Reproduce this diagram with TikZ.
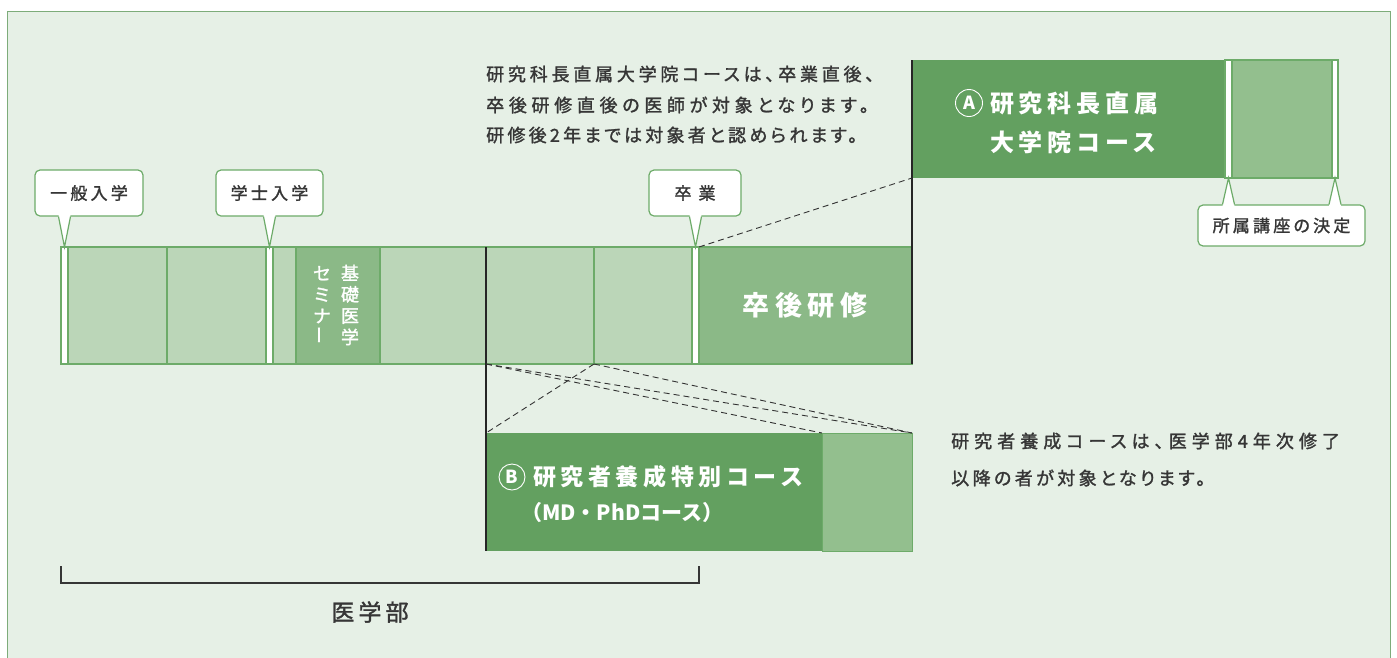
\documentclass[tikz,border=0pt]{standalone}
\usepackage{fontspec}
\setmainfont{Noto Sans CJK JP}
\newfontfamily\jp[LetterSpace=19, RawFeature=+palt, FakeBold=1.5]{Noto Sans CJK JP}
\newfontfamily\jpw[LetterSpace=20]{Noto Sans CJK JP}
\newfontfamily\jpt[LetterSpace=4, FakeBold=1.5]{Noto Sans CJK JP}
\newfontfamily\jpm[LetterSpace=18, FakeBold=1.5]{Noto Sans CJK JP}
\usetikzlibrary{calc}
\definecolor{bg}{HTML}{E6F0E6}
\definecolor{frm}{HTML}{7DAC7A}
\definecolor{light}{HTML}{BBD6B8}
\definecolor{mid}{HTML}{8BB987}
\definecolor{dark}{HTML}{63A060}
\definecolor{pale}{HTML}{93BF8E}
\definecolor{cline}{HTML}{6DAB69}
\definecolor{txt}{HTML}{363636}
\begin{document}
\begin{tikzpicture}[x=1pt,y=-1pt,
  cell/.style={draw=cline, line width=1.3pt, inner sep=0pt, outer sep=0pt, anchor=north west, minimum height=117pt},
  box/.style={inner sep=0pt, outer sep=0pt, anchor=north west, minimum height=118pt},
  callout/.style={draw=cline, fill=white, line width=1.2pt, rounded corners=5pt, inner sep=0pt, text=txt, font=\jp\fontsize{17}{20}\selectfont},
  ptr/.style={draw=cline, line width=1.2pt},
  ptrfill/.style={fill=white},
  blk/.style={draw=black!85, line width=1.1pt},
  dsh/.style={draw=black!80, line width=0.9pt, dash pattern=on 6pt off 4pt},
  note/.style={anchor=west, inner sep=0pt, text=txt, font=\jp\fontsize{18}{20}\selectfont},
  wtxt/.style={inner sep=0pt, text=white, font=\jpw\bfseries\fontsize{24}{26}\selectfont},
  vtxt/.style={inner sep=0pt, text=white, align=center, font=\jpt\fontsize{18}{21.3}\selectfont},
  letter/.style={circle, draw=white, line width=0.9pt, inner sep=0pt, minimum size=27pt, text=white, font=\bfseries\fontsize{18}{18}\selectfont}
]
\useasboundingbox (0,0) rectangle (1397,657);
\fill[white] (0,0) rectangle (1397,657);
\begin{scope}
\clip (0,0) rectangle (1397,657);
\draw[frm, fill=bg, line width=1.5pt] (7.5,11.5) rectangle (1390.5,700);
\end{scope}

% main bar
\node[cell, fill=white, minimum width=7pt] (w1) at (61,247) {};
\node[cell, fill=light, minimum width=99pt] (c1) at (68,247) {};
\node[cell, fill=light, minimum width=99pt] (c2) at (167,247) {};
\node[cell, fill=white, minimum width=7pt] (w2) at (266,247) {};
\node[cell, fill=light, minimum width=23pt] (c3) at (273,247) {};
\node[cell, fill=mid, minimum width=84pt] (sem) at (296,247) {};
\node[cell, fill=light, minimum width=106pt] (c4) at (380,247) {};
\node[cell, fill=light, minimum width=108pt] (c5) at (486,247) {};
\node[cell, fill=light, minimum width=98pt] (c6) at (594,247) {};
\node[cell, fill=white, minimum width=7pt] (w3) at (692,247) {};
\node[cell, fill=mid, minimum width=213pt] (post) at (699,247) {};

% A box
\node[box, fill=dark, minimum width=313pt] (Ad) at (912,60) {};
\node[cell, fill=white, minimum width=7pt, minimum height=118pt] (Aw1) at (1225,60) {};
\node[cell, fill=pale, minimum width=100pt, minimum height=118pt] (Al) at (1232,60) {};
\node[cell, fill=white, minimum width=6pt, minimum height=118pt] (Aw2) at (1332,60) {};

% B box
\node[box, fill=dark, minimum width=336pt] (Bd) at (486,433) {};
\node[box, fill=pale, draw=cline, line width=1pt, minimum width=90pt] (Bl) at (822,433) {};

% black lines
\draw[blk] (c5.north west) -- (Bd.south west);
\draw[blk] (Ad.north west) -- (post.south east);

% dashed lines
\draw[dsh] (post.north west) -- (Ad.south west);
\draw[dsh] (c5.south west) -- (Bl.north west);
\draw[dsh] (c5.south west) -- (Bl.north east);
\draw[dsh] (c5.south east) -- (Bl.north east);
\draw[dsh] (c5.south east) -- (Bd.north west);

% callouts above the bar
\node[callout, minimum width=108pt, minimum height=46pt] (L1) at (89,193) {一般入学};
\node[callout, minimum width=107pt, minimum height=46pt] (L2) at (269.5,193) {学士入学};
\node[callout, minimum width=92pt, minimum height=46pt] (L3) at (695,193) {卒\hspace{7pt}業};
\foreach \t/\l in {w1/L1, w2/L2, w3/L3}{
  \fill[ptrfill] ($(\t.north |- \l.south)+(-6,-1.6)$) -- (\t.north) -- ($(\t.north |- \l.south)+(6,-1.6)$) -- cycle;
  \draw[ptr] ($(\t.north |- \l.south)+(-6,0)$) -- (\t.north) -- ($(\t.north |- \l.south)+(6,0)$);
}
% callout below A
\node[callout, minimum width=167pt, minimum height=41pt] (L4) at (1281.5,225.5) {所属講座の決定};
\foreach \t in {Aw1, Aw2}{
  \fill[ptrfill] ($(\t.south |- L4.north)+(-6,1.6)$) -- (\t.south) -- ($(\t.south |- L4.north)+(6,1.6)$) -- cycle;
  \draw[ptr] ($(\t.south |- L4.north)+(-6,0)$) -- (\t.south) -- ($(\t.south |- L4.north)+(6,0)$);
}

% notes
\node[note] (t1) at (486,74) {\addfontfeatures{LetterSpace=21}研究科長直属大学院コースは、卒業直後、};
\node[note] (t2) at (486,105) {\addfontfeatures{LetterSpace=26}卒後研修直後の医師が対象となります。};
\node[note] (t3) at (486,135) {\addfontfeatures{LetterSpace=18}研修後2年までは対象者と認められます。};
\node[note] (r1) at (951,441) {\addfontfeatures{LetterSpace=28}研究者養成コースは、医学部4年次修了};
\node[note] (r2) at (951,478) {以降の者が対象となります。};

% texts in boxes
\node[vtxt] (s1) at (350,305) {基\\礎\\医\\学};
\node[vtxt] (s2) at (322,305) {セ\\ミ\\ナ\\\rotatebox{90}{ー}};
\node[wtxt, font=\jpw\bfseries\fontsize{27}{29}\selectfont] (pt) at (805,305) {卒後研修};

\node[letter] (cA) at (969,103) {A};
\node[wtxt, anchor=west] (a1) at (990,103) {研究科長直属};
\node[wtxt, anchor=west] (a2) at (990,142) {大学院コース};

\node[letter, minimum size=26pt] (cB) at (512,477) {B};
\node[wtxt, anchor=west, font=\jpw\bfseries\fontsize{23}{25}\selectfont] (b1) at (533,477) {研究者養成特別コース};
\node[wtxt, anchor=west, font=\normalfont\bfseries\fontsize{21}{23}\selectfont] (b2) at (521,513) {（MD・PhDコース）};

% bracket
\draw[draw=txt, line width=1.2pt] (61,566) -- (61,583) -- (699,583) -- (699,566);
\node[inner sep=0pt, text=txt, font=\jpm\fontsize{23}{25}\selectfont] (med) at (370,612) {医学部};
\end{tikzpicture}
\end{document}
